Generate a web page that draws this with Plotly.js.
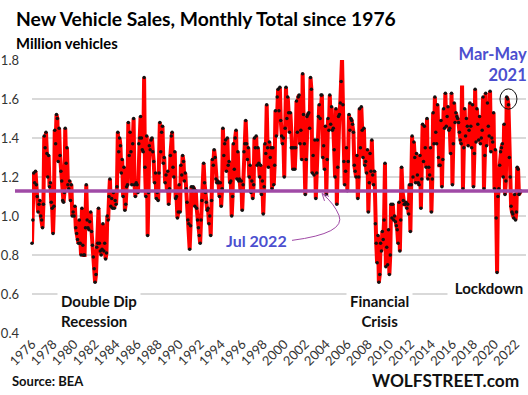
<!DOCTYPE html>
<html><head><meta charset="utf-8">
<script src="https://cdn.plot.ly/plotly-3.0.1.min.js"></script>
<style>html,body{margin:0;padding:0;background:#fff}#chart{width:528px;height:395px}</style>
</head><body><div id="chart"></div>
<script>
// Monthly new vehicle sales, million vehicles (Jan..Dec)
const y1976 = [0.86, 0.98, 1.22, 1.17, 1.23, 1.16, 1.10, 1.02, 1.06, 1.08, 1.00, 0.98];
const y1977 = [0.94, 1.06, 1.41, 1.35, 1.43, 1.32, 1.20, 1.31, 1.15, 1.17, 1.07, 1.04];
const y1978 = [0.91, 1.05, 1.44, 1.37, 1.52, 1.50, 1.28, 1.45, 1.31, 1.23, 1.18, 1.08];
const y1979 = [1.07, 1.12, 1.45, 1.27, 1.35, 1.16, 1.14, 1.18, 1.08, 1.16, 1.00, 1.02];
const y1980 = [1.00, 1.05, 0.94, 0.91, 0.88, 0.86, 0.98, 0.86, 0.80, 1.04, 0.85, 0.80];
const y1981 = [0.80, 0.94, 1.16, 0.98, 0.94, 0.93, 0.97, 1.02, 0.92, 0.85, 0.79, 0.73];
const y1982 = [0.66, 0.70, 0.84, 0.86, 1.04, 0.86, 0.82, 0.80, 0.83, 0.96, 0.82, 0.86];
const y1983 = [0.78, 0.81, 1.00, 0.98, 1.10, 1.19, 1.05, 1.09, 1.04, 1.12, 1.04, 1.08];
const y1984 = [1.06, 1.15, 1.43, 1.33, 1.40, 1.36, 1.22, 1.29, 1.10, 1.25, 1.03, 1.06];
const y1985 = [1.15, 1.16, 1.48, 1.31, 1.43, 1.33, 1.16, 1.37, 1.50, 1.16, 1.10, 1.17];
const y1986 = [1.16, 1.12, 1.37, 1.40, 1.51, 1.40, 1.34, 1.33, 1.71, 1.25, 1.10, 1.41];
const y1987 = [0.90, 1.12, 1.36, 1.34, 1.39, 1.40, 1.33, 1.28, 1.17, 1.22, 1.09, 1.12];
const y1988 = [1.08, 1.22, 1.48, 1.33, 1.43, 1.46, 1.27, 1.30, 1.17, 1.21, 1.13, 1.23];
const y1989 = [1.06, 1.14, 1.31, 1.41, 1.43, 1.25, 1.20, 1.33, 1.09, 1.10, 0.99, 1.02];
const y1990 = [1.16, 1.02, 1.26, 1.21, 1.31, 1.28, 1.18, 1.22, 1.14, 1.07, 0.98, 0.96];
const y1991 = [0.83, 0.95, 1.15, 1.13, 1.15, 1.14, 1.05, 1.13, 1.04, 0.98, 0.94, 0.90];
const y1992 = [0.86, 0.98, 1.08, 1.13, 1.27, 1.17, 1.12, 1.07, 1.03, 1.04, 0.96, 1.00];
const y1993 = [0.90, 1.08, 1.29, 1.26, 1.34, 1.30, 1.19, 1.17, 1.18, 1.17, 1.10, 1.17];
const y1994 = [1.05, 1.14, 1.45, 1.31, 1.37, 1.39, 1.23, 1.40, 1.26, 1.28, 1.17, 1.18];
const y1995 = [1.00, 1.10, 1.37, 1.24, 1.40, 1.44, 1.19, 1.33, 1.18, 1.19, 1.13, 1.18];
const y1996 = [1.03, 1.16, 1.33, 1.37, 1.49, 1.37, 1.29, 1.35, 1.20, 1.26, 1.12, 1.18];
const y1997 = [1.09, 1.16, 1.40, 1.35, 1.41, 1.26, 1.35, 1.27, 1.20, 1.26, 1.11, 1.18];
const y1998 = [1.01, 1.15, 1.37, 1.32, 1.57, 1.35, 1.25, 1.38, 1.30, 1.35, 1.14, 1.35];
const y1999 = [1.16, 1.26, 1.54, 1.41, 1.61, 1.65, 1.54, 1.66, 1.49, 1.41, 1.37, 1.40];
const y2000 = [1.20, 1.45, 1.66, 1.50, 1.61, 1.53, 1.43, 1.53, 1.35, 1.35, 1.24, 1.35];
const y2001 = [1.24, 1.35, 1.59, 1.43, 1.61, 1.62, 1.37, 1.44, 1.29, 1.73, 1.52, 1.37];
const y2002 = [1.11, 1.29, 1.51, 1.52, 1.53, 1.45, 1.71, 1.65, 1.22, 1.31, 1.21, 1.39];
const y2003 = [1.09, 1.22, 1.39, 1.51, 1.57, 1.50, 1.62, 1.62, 1.30, 1.36, 1.24, 1.46];
const y2004 = [1.11, 1.29, 1.50, 1.44, 1.62, 1.47, 1.56, 1.44, 1.45, 1.34, 1.20, 1.55];
const y2005 = [1.06, 1.25, 1.51, 1.52, 1.58, 1.69, 1.81, 1.57, 1.28, 1.16, 1.23, 1.35];
const y2006 = [1.13, 1.28, 1.52, 1.44, 1.50, 1.49, 1.47, 1.43, 1.26, 1.23, 1.20, 1.31];
const y2007 = [1.09, 1.20, 1.55, 1.35, 1.56, 1.44, 1.30, 1.45, 1.26, 1.28, 1.22, 1.34];
const y2008 = [1.02, 1.17, 1.32, 1.23, 1.39, 1.21, 1.16, 1.23, 0.96, 0.86, 0.76, 0.90];
const y2009 = [0.66, 0.70, 0.86, 0.82, 0.92, 0.88, 0.98, 1.27, 0.74, 0.84, 0.75, 0.93];
const y2010 = [0.70, 0.80, 1.06, 0.99, 1.06, 0.98, 1.00, 0.97, 0.95, 0.93, 0.86, 1.07];
const y2011 = [0.82, 0.98, 1.25, 1.13, 1.08, 1.06, 1.06, 1.07, 1.04, 1.06, 1.01, 1.16];
const y2012 = [0.92, 1.16, 1.41, 1.20, 1.38, 1.30, 1.17, 1.32, 1.21, 1.17, 1.16, 1.31];
const y2013 = [1.04, 1.19, 1.47, 1.28, 1.46, 1.35, 1.25, 1.50, 1.19, 1.25, 1.21, 1.35];
const y2014 = [1.02, 1.19, 1.53, 1.37, 1.61, 1.43, 1.37, 1.57, 1.30, 1.26, 1.26, 1.49];
const y2015 = [1.15, 1.29, 1.55, 1.45, 1.63, 1.46, 1.51, 1.56, 1.44, 1.45, 1.32, 1.63];
const y2016 = [1.16, 1.37, 1.58, 1.48, 1.53, 1.51, 1.50, 1.48, 1.43, 1.39, 1.37, 1.68];
const y2017 = [1.14, 1.35, 1.55, 1.41, 1.50, 1.46, 1.36, 1.44, 1.58, 1.46, 1.35, 1.57];
const y2018 = [1.15, 1.32, 1.65, 1.38, 1.55, 1.47, 1.39, 1.51, 1.37, 1.40, 1.44, 1.61];
const y2019 = [1.14, 1.31, 1.63, 1.36, 1.58, 1.46, 1.41, 1.64, 1.33, 1.40, 1.38, 1.53];
const y2020 = [1.14, 1.34, 0.99, 0.71, 1.10, 1.14, 1.26, 1.33, 1.35, 1.37, 1.20, 1.47];
const y2021 = [1.11, 1.18, 1.61, 1.60, 1.57, 1.30, 1.20, 1.05, 1.02, 1.01, 0.99, 1.11];
const y2022 = [0.98, 1.02, 1.25, 1.24, 1.11, 1.12, 1.128];

const firstYear = 1976;
const yearly = [y1976,y1977,y1978,y1979,y1980,y1981,y1982,y1983,y1984,y1985,y1986,y1987,
  y1988,y1989,y1990,y1991,y1992,y1993,y1994,y1995,y1996,y1997,y1998,y1999,y2000,y2001,
  y2002,y2003,y2004,y2005,y2006,y2007,y2008,y2009,y2010,y2011,y2012,y2013,y2014,y2015,
  y2016,y2017,y2018,y2019,y2020,y2021,y2022];

const dates = [], sales = [];
yearly.forEach((arr, i) => {
  arr.forEach((v, m) => {
    dates.push((firstYear + i) + '-' + String(m + 1).padStart(2, '0') + '-01');
    sales.push(v);
  });
});
const lastValue = sales[sales.length - 1];

const W = 528, H = 395;
const L = 32, R = 2, T = 59.5, B = 62.3;
const pw = W - L - R, ph = H - T - B;
const px = x => (x - L) / pw;
const py = y => (H - B - y) / ph;

const FONT = 'Lato, "Open Sans", sans-serif';
const BLUE = '#4c4fcf';
const PURPLE = '#a04aa6';

const traces = [{
  x: dates, y: sales, type: 'scatter', mode: 'lines+markers',
  line: {color: '#ff0000', width: 4},
  marker: {color: '#111111', size: 3.5},
  cliponaxis: false, hoverinfo: 'skip'
}];

const layout = {
  width: W, height: H,
  margin: {l: L, r: R, t: T, b: B},
  paper_bgcolor: '#fff', plot_bgcolor: '#fff',
  showlegend: false,
  font: {family: FONT, color: '#222'},
  xaxis: {
    type: 'date', range: ['1976-01-01', '2023-01-01'],
    tick0: '1976-01-01', dtick: 'M24', tickformat: '%Y', tickangle: -45,
    showgrid: false, zeroline: false, showline: false, ticks: '',
    tickfont: {family: FONT, size: 13, color: '#333'}
  },
  yaxis: {
    range: [0.4, 1.8], dtick: 0.2, tick0: 0.4, tickformat: '.1f',
    showgrid: true, gridcolor: '#d9d9d9', gridwidth: 1.3,
    zeroline: false, showline: false, ticks: '', ticklabelstandoff: 12,
    tickfont: {family: FONT, size: 13, color: '#333'}
  },
  shapes: [
    {type: 'line', xref: 'paper', yref: 'y', x0: px(15), x1: px(528), y0: lastValue, y1: lastValue,
     line: {color: PURPLE, width: 3.5}, layer: 'above'},
    {type: 'circle', xref: 'x', yref: 'y', x0: '2020-07-10', x1: '2022-02-20', y0: 1.548, y1: 1.652,
     line: {color: '#111', width: 1}, layer: 'above'},
    {type: 'path', xref: 'paper', yref: 'paper',
     path: `M${px(292)},${py(240)} Q${px(346)},${py(233)} ${px(339)},${py(215)} Q${px(334)},${py(203)} ${px(323)},${py(194)}`,
     line: {color: PURPLE, width: 1}, layer: 'above'},
    {type: 'path', xref: 'paper', yref: 'paper',
     path: `M${px(329)},${py(196)} L${px(322)},${py(193)} L${px(324.5)},${py(200.5)}`,
     line: {color: PURPLE, width: 1}, layer: 'above'}
  ],
  annotations: [
    {text: '<b>New Vehicle Sales, Monthly Total since 1976</b>', xref: 'paper', yref: 'paper',
     x: px(14), y: py(4), xanchor: 'left', yanchor: 'top', showarrow: false,
     font: {family: FONT, size: 19.3, color: '#000'}},
    {text: '<b>Million vehicles</b>', xref: 'paper', yref: 'paper',
     x: px(14), y: py(31), xanchor: 'left', yanchor: 'top', showarrow: false,
     font: {family: FONT, size: 14.8, color: '#000'}},
    {text: '<b>Mar-May</b><br><b>2021</b>', xref: 'paper', yref: 'paper', align: 'right',
     x: px(528), y: py(42), xanchor: 'right', yanchor: 'top', showarrow: false,
     bgcolor: '#fff', borderpad: 0, width: 82,
     font: {family: FONT, size: 16.5, color: BLUE}},
    {text: '<b>Jul 2022</b>', xref: 'paper', yref: 'paper',
     x: px(256.5), y: py(240), xanchor: 'center', yanchor: 'middle', showarrow: false,
     font: {family: FONT, size: 16, color: BLUE}},
    {text: '<b>Double Dip</b><br><b>Recession</b>', xref: 'paper', yref: 'paper', align: 'left',
     x: px(57), y: py(288), xanchor: 'left', yanchor: 'top', showarrow: false,
     bgcolor: '#fff', borderpad: 3,
     font: {family: FONT, size: 15, color: '#111'}},
    {text: '<b>Financial</b><br><b>Crisis</b>', xref: 'paper', yref: 'paper', align: 'center',
     x: px(379.5), y: py(288), xanchor: 'center', yanchor: 'top', showarrow: false,
     bgcolor: '#fff', borderpad: 3,
     font: {family: FONT, size: 15, color: '#111'}},
    {text: '<b>Lockdown</b>', xref: 'paper', yref: 'paper',
     x: px(489), y: py(287.5), xanchor: 'center', yanchor: 'middle', showarrow: false,
     bgcolor: '#fff', borderpad: 2, width: 78,
     font: {family: FONT, size: 15, color: '#111'}},
    {text: '<b>Source: BEA</b>', xref: 'paper', yref: 'paper',
     x: px(10), y: py(380.5), xanchor: 'left', yanchor: 'middle', showarrow: false,
     font: {family: FONT, size: 13, color: '#111'}},
    {text: '<b>WOLFSTREET.com</b>', xref: 'paper', yref: 'paper',
     x: px(521), y: py(380), xanchor: 'right', yanchor: 'middle', showarrow: false,
     font: {family: FONT, size: 17.3, color: '#111'}}
  ]
};

Plotly.newPlot('chart', traces, layout, {staticPlot: true, displayModeBar: false});
</script>
</body></html>
